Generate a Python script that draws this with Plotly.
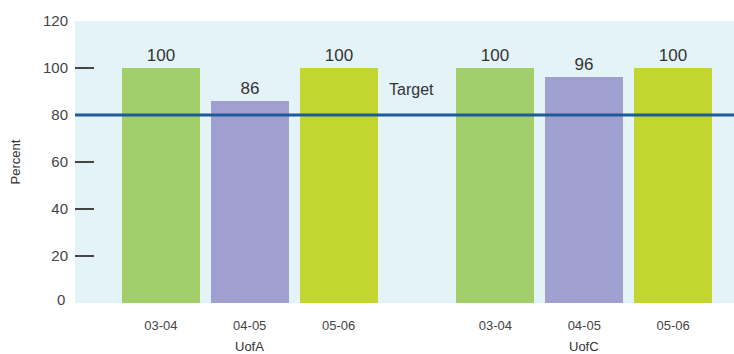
import plotly.graph_objects as go

# ---- data ----
groups = ["UofA", "UofC"]
years = ["03-04", "04-05", "05-06"]
uofa_values = [100, 86, 100]
uofc_values = [100, 96, 100]
target_value = 80
target_label = "Target"
y_ticks = [20, 40, 60, 80, 100, 120]
y_title = "Percent"

# ---- style ----
bar_colors = ["#a3cf6a", "#9fa0cf", "#c3d630"]
bg_color = "#e4f3f8"
line_color = "#1c5a9a"
text_color = "#333333"
FONT = "Liberation Sans, Arial, sans-serif"

group_gap = 3.764  # x offset of the second group
bar_width = 0.876

xs, ys, cols, ticktext = [], [], [], []
for gi, vals in enumerate([uofa_values, uofc_values]):
    for yi, v in enumerate(vals):
        xs.append(gi * group_gap + yi)
        ys.append(v)
        cols.append(bar_colors[yi])
        ticktext.append(years[yi])

fig = go.Figure()
fig.add_trace(go.Bar(
    x=xs, y=ys, width=bar_width,
    marker=dict(color=cols, line=dict(width=0)),
    text=[str(v) for v in ys], textposition="outside",
    textfont=dict(family=FONT, size=17, color=text_color),
    cliponaxis=False, hoverinfo="skip",
))

fig.add_shape(type="line", xref="paper", x0=0, x1=1, yref="y",
              y0=target_value, y1=target_value,
              line=dict(color=line_color, width=3), layer="above")

fig.add_annotation(x=2.55, y=91, text=target_label, showarrow=False,
                   xanchor="left", yanchor="middle",
                   font=dict(family=FONT, size=16, color=text_color))

# group labels
for gi, g in enumerate(groups):
    fig.add_annotation(x=gi * group_gap + 1, xref="x", y=0, yref="paper",
                       yshift=-43, text=g, showarrow=False, yanchor="middle",
                       font=dict(family=FONT, size=13, color=text_color))
# zero label
fig.add_annotation(x=0, xref="paper", y=0, yref="y", text="0", showarrow=False,
                   xanchor="right", yanchor="middle", xshift=-8, yshift=4,
                   font=dict(family=FONT, size=15, color="#444444"))

fig.update_layout(
    width=734, height=354,
    margin=dict(l=75, r=0, t=21, b=51),
    paper_bgcolor="white", plot_bgcolor=bg_color,
    showlegend=False, bargap=0,
    font=dict(family=FONT, color=text_color),
)
fig.update_xaxes(
    range=[-0.966, 6.449], tickmode="array", tickvals=xs, ticktext=ticktext,
    ticks="outside", ticklen=10, tickcolor="rgba(0,0,0,0)",
    tickfont=dict(family=FONT, size=13, color="#444444"),
    showgrid=False, zeroline=False, showline=False,
)
fig.update_yaxes(
    range=[0, 120], tickmode="array", tickvals=y_ticks,
    ticks="inside", ticklen=19, tickwidth=1.5, tickcolor="#444444",
    tickfont=dict(family=FONT, size=15, color="#444444"),
    ticklabelstandoff=6,
    showgrid=False, zeroline=False, showline=False,
    title=dict(text=y_title, font=dict(family=FONT, size=13, color=text_color), standoff=19),
)

fig.write_html("out.html")
